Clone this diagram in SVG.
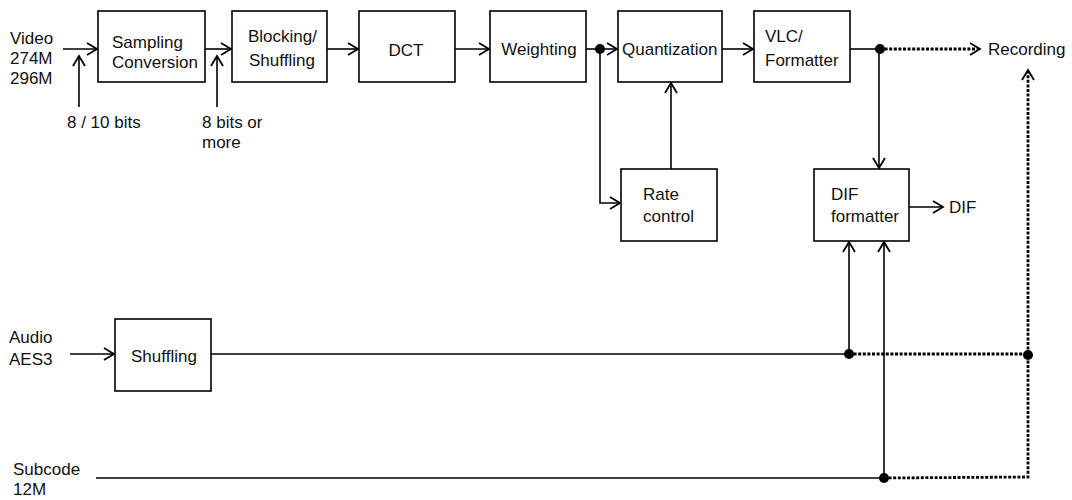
<svg xmlns="http://www.w3.org/2000/svg" width="1072" height="500" viewBox="0 0 1072 500">
<defs>
<marker id="arr" markerUnits="userSpaceOnUse" markerWidth="14" markerHeight="14" refX="11" refY="7" orient="auto" overflow="visible">
<path d="M1,1 L11,7 L1,13" fill="none" stroke="#000" stroke-width="1.8"/>
</marker>
</defs>
<style>
.box{fill:#fff;stroke:#000;stroke-width:1.6}
.ln{fill:none;stroke:#000;stroke-width:1.6}
.dot{fill:none;stroke:#000;stroke-width:2.8;stroke-dasharray:3 1.6}
.t{font-family:"Liberation Sans",Arial,sans-serif;font-size:17px;fill:#111}
.j{fill:#000}
</style>
<rect width="1072" height="500" fill="#fff"/>
<g id="connectors">
<line class="ln" x1="63" y1="49" x2="97" y2="49" marker-end="url(#arr)"/>
<line class="ln" x1="79" y1="107" x2="79" y2="56" marker-end="url(#arr)"/>
<line class="ln" x1="205" y1="49" x2="231" y2="49" marker-end="url(#arr)"/>
<line class="ln" x1="217" y1="107" x2="217" y2="56" marker-end="url(#arr)"/>
<line class="ln" x1="327" y1="49" x2="358" y2="49" marker-end="url(#arr)"/>
<line class="ln" x1="455" y1="49" x2="489" y2="49" marker-end="url(#arr)"/>
<line class="ln" x1="586" y1="49" x2="617" y2="49" marker-end="url(#arr)"/>
<line class="ln" x1="722" y1="49" x2="753" y2="49" marker-end="url(#arr)"/>
<line class="ln" x1="850" y1="49" x2="880" y2="49"/>
<polyline class="ln" points="600,49 600,203 620,203" marker-end="url(#arr)"/>
<line class="ln" x1="671" y1="169" x2="671" y2="83" marker-end="url(#arr)"/>
<line class="ln" x1="879" y1="49" x2="879" y2="168" marker-end="url(#arr)"/>
<line class="ln" x1="909" y1="207" x2="943" y2="207" marker-end="url(#arr)"/>
<line class="dot" x1="880" y1="49" x2="978" y2="49"/>
<path d="M970,43 L980,49 L970,55" fill="none" stroke="#000" stroke-width="1.8"/>
<line class="ln" x1="70" y1="354" x2="114" y2="354" marker-end="url(#arr)"/>
<line class="ln" x1="211" y1="354" x2="849" y2="354"/>
<line class="ln" x1="849" y1="354" x2="849" y2="242" marker-end="url(#arr)"/>
<line class="ln" x1="96" y1="478" x2="884" y2="478"/>
<line class="ln" x1="884" y1="478" x2="884" y2="242" marker-end="url(#arr)"/>
<line class="dot" x1="849" y1="354" x2="1028" y2="354"/>
<polyline class="dot" points="884,478 1028,477 1028,72"/>
<path d="M1022,80 L1028,70 L1034,80" fill="none" stroke="#000" stroke-width="1.8"/>
<circle class="j" cx="600" cy="49" r="5"/>
<circle class="j" cx="880" cy="49" r="5"/>
<circle class="j" cx="849" cy="354" r="5"/>
<circle class="j" cx="1028" cy="355" r="5"/>
<circle class="j" cx="884" cy="478" r="5"/>
</g>
<g id="labels">
<text class="t" x="10" y="44">Video</text>
<text class="t" x="10" y="64">274M</text>
<text class="t" x="10" y="84">296M</text>
<text class="t" x="67" y="128">8 / 10 bits</text>
<text class="t" x="202" y="128">8 bits or</text>
<text class="t" x="202" y="148">more</text>
<text class="t" x="988" y="55">Recording</text>
<text class="t" x="949" y="213">DIF</text>
<text class="t" x="9" y="343">Audio</text>
<text class="t" x="9" y="365">AES3</text>
<text class="t" x="13" y="475">Subcode</text>
<text class="t" x="13" y="495">12M</text>
</g>
<g id="sampling"><rect class="box" x="98" y="11" width="107" height="71"/><text class="t" x="112" y="48">Sampling</text><text class="t" x="112" y="68">Conversion</text></g>
<g id="blocking"><rect class="box" x="232" y="11" width="95" height="71"/><text class="t" x="248" y="42">Blocking/</text><text class="t" x="249" y="66">Shuffling</text></g>
<g id="dct"><rect class="box" x="359" y="11" width="96" height="71"/><text class="t" x="406" y="56" text-anchor="middle">DCT</text></g>
<g id="weighting"><rect class="box" x="490" y="11" width="96" height="71"/><text class="t" x="539" y="55" text-anchor="middle">Weighting</text></g>
<g id="quantization"><rect class="box" x="618" y="11" width="104" height="71"/><text class="t" x="622" y="55">Quantization</text></g>
<g id="vlc"><rect class="box" x="754" y="11" width="96" height="71"/><text class="t" x="765" y="42">VLC/</text><text class="t" x="765" y="66">Formatter</text></g>
<g id="rate"><rect class="box" x="621" y="169" width="96" height="72"/><text class="t" x="643" y="200">Rate</text><text class="t" x="643" y="222">control</text></g>
<g id="dif"><rect class="box" x="814" y="169" width="95" height="72"/><text class="t" x="831" y="200">DIF</text><text class="t" x="831" y="222">formatter</text></g>
<g id="shuffling"><rect class="box" x="115" y="319" width="96" height="72"/><text class="t" x="131" y="362">Shuffling</text></g>
</svg>
